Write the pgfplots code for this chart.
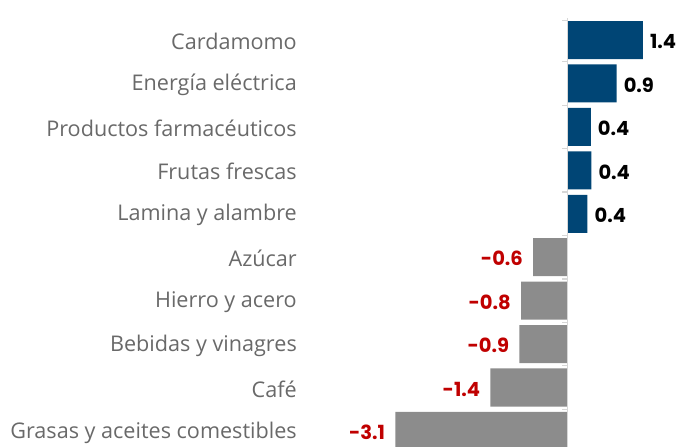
\documentclass[border=0pt]{standalone}
\usepackage{pgfplots}
\pgfplotsset{compat=1.18}
\usepackage{fontspec}
\setmainfont{Open Sans}
\newfontfamily\valfont{Poppins}[BoldFont={* Bold}]
\definecolor{barblue}{RGB}{0,69,117}
\definecolor{bargray}{RGB}{140,140,140}
\definecolor{valred}{RGB}{192,0,0}
\definecolor{labgray}{RGB}{105,105,105}
\definecolor{zeroline}{RGB}{215,215,215}

\begin{document}
\begin{tikzpicture}
\begin{axis}[
    xbar,
    bar shift=0pt,
    bar width=0.875,
    scale only axis,
    width=377pt,
    height=428.7pt,
    xmin=-4.82, xmax=2.045,
    ymin=-0.5, ymax=9.37,
    y dir=reverse,
    axis line style={draw=none},
    xtick=\empty,
    ytick={0,...,9},
    yticklabels={Cardamomo,Energía eléctrica,Productos farmacéuticos,Frutas frescas,Lamina y alambre,Azúcar,Hierro y acero,Bebidas y vinagres,Café,Grasas y aceites comestibles},
    major tick length=0pt,
    yticklabel style={font=\fontsize{21.6}{25}\selectfont, text=labgray, anchor=east, inner sep=0pt, xshift=-6pt, yshift=-1.5pt},
    point meta=explicit symbolic,
    nodes near coords,
    every node near coord/.append style={font=\valfont\bfseries\fontsize{19.5}{22}\selectfont, inner sep=0pt, yshift=-1.5pt},
]
\addplot[fill=barblue, draw=none,
    every node near coord/.append style={anchor=west, xshift=7pt, text=black}]
    coordinates {(1.37,0) [1.4] (0.89,1) [0.9] (0.42,2) [0.4] (0.43,3) [0.4] (0.36,4) [0.4]};
\addplot[fill=bargray, draw=none,
    every node near coord/.append style={anchor=east, xshift=-10pt, text=valred}]
    coordinates {(-0.63,5) [-0.6] (-0.85,6) [-0.8] (-0.88,7) [-0.9] (-1.41,8) [-1.4] (-3.14,9) [-3.1]};
\draw[zeroline, line width=1.5pt] (axis cs:0,-0.5) -- (axis cs:0,9.37);
\draw[zeroline, line width=1.2pt] (axis cs:0,-0.45) -- ([xshift=-6pt]axis cs:0,-0.45);
\pgfplotsinvokeforeach{0.5,1.5,...,8.5}{
  \draw[zeroline, line width=1.2pt] (axis cs:0,#1) -- ([xshift=-6pt]axis cs:0,#1);
}
\end{axis}
\pgfresetboundingbox
\path ([xshift=-303pt]current axis.south west) rectangle ([yshift=18.3pt]current axis.north east);
\end{tikzpicture}
\end{document}
